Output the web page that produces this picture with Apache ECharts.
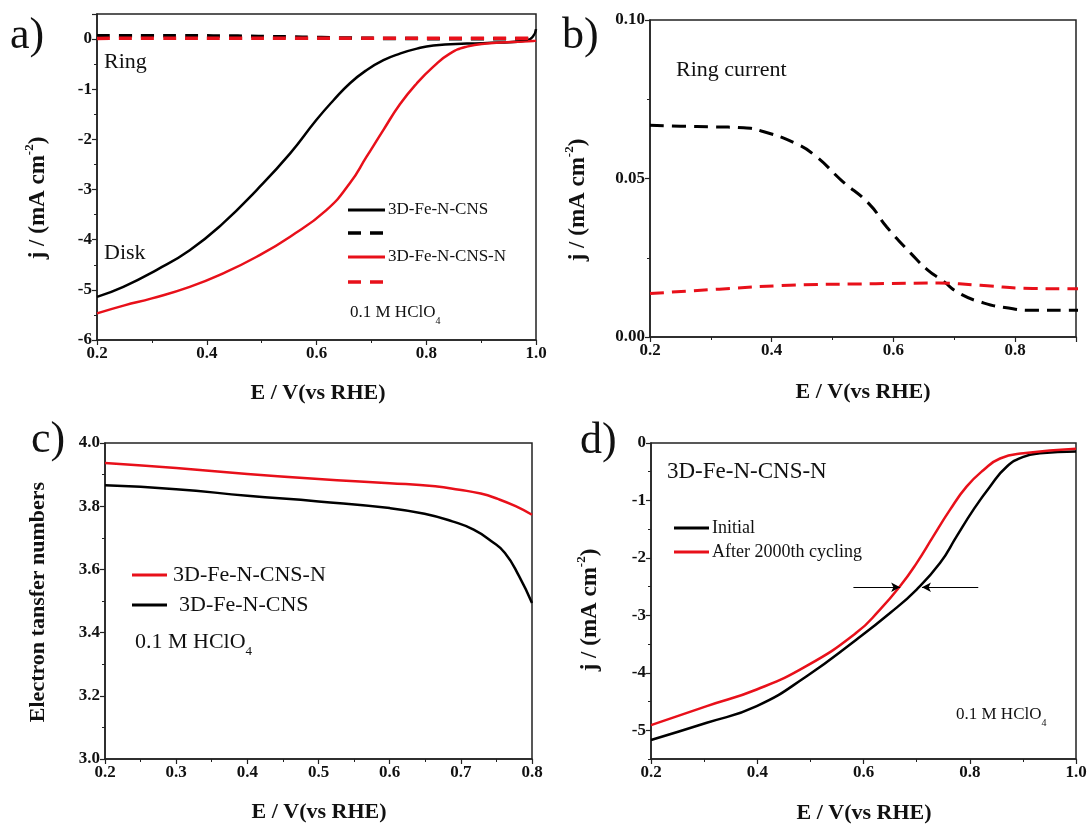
<!DOCTYPE html>
<html><head><meta charset="utf-8">
<script src="https://cdn.jsdelivr.net/npm/echarts@6/dist/echarts.min.js"></script>
<style>html,body{margin:0;padding:0;background:#fff}#c{width:1091px;height:825px}</style>
</head><body><div id="c"></div><script>
// ---------- data (E / V vs RHE, value) ----------
const aDiskCNS = [[0.2,-5.14],[0.248,-4.94],[0.309,-4.6],[0.369,-4.21],[0.43,-3.67],[0.491,-3.01],[0.552,-2.28],[0.6,-1.61],[0.631,-1.22],[0.661,-0.88],[0.691,-0.62],[0.722,-0.42],[0.752,-0.29],[0.783,-0.19],[0.813,-0.13],[0.874,-0.09],[0.934,-0.07],[0.983,-0.03],[0.995,0.06],[1.0,0.2]];
const aDiskCNSN = [[0.2,-5.47],[0.25,-5.31],[0.3,-5.17],[0.369,-4.94],[0.43,-4.67],[0.491,-4.34],[0.552,-3.94],[0.618,-3.41],[0.661,-2.87],[0.691,-2.35],[0.722,-1.81],[0.752,-1.3],[0.783,-0.88],[0.813,-0.55],[0.843,-0.29],[0.874,-0.15],[0.91,-0.09],[0.995,-0.04],[1.0,-0.03]];
const ringCNS = [[0.2,0.0668],[0.25,0.0665],[0.303,0.0663],[0.354,0.066],[0.383,0.065],[0.44,0.061],[0.474,0.0568],[0.514,0.0495],[0.56,0.042],[0.589,0.0347],[0.629,0.0263],[0.657,0.021],[0.68,0.0179],[0.709,0.0137],[0.749,0.0107],[0.783,0.0093],[0.829,0.0084],[0.9,0.0084],[1.0,0.0084]];
const ringCNSN = [[0.2,0.0137],[0.314,0.0151],[0.429,0.0163],[0.571,0.0168],[0.674,0.017],[0.743,0.0163],[0.829,0.0153],[0.9,0.0152],[1.0,0.015]];
const nCNSN = [[0.2,3.937],[0.3,3.921],[0.4,3.902],[0.5,3.886],[0.6,3.873],[0.664,3.863],[0.698,3.852],[0.728,3.84],[0.752,3.823],[0.777,3.8],[0.8,3.773]];
const nCNS = [[0.2,3.866],[0.3,3.854],[0.4,3.833],[0.5,3.815],[0.6,3.794],[0.649,3.776],[0.688,3.752],[0.718,3.726],[0.743,3.689],[0.762,3.652],[0.782,3.578],[0.8,3.494]];
const dInitial = [[0.2,-5.17],[0.305,-4.87],[0.399,-4.58],[0.493,-4.06],[0.587,-3.42],[0.65,-2.96],[0.7,-2.55],[0.744,-2.09],[0.775,-1.63],[0.807,-1.16],[0.838,-0.76],[0.87,-0.41],[0.901,-0.24],[0.932,-0.18],[1.0,-0.15]];
const dAfter = [[0.2,-4.91],[0.305,-4.58],[0.399,-4.29],[0.493,-3.88],[0.587,-3.3],[0.631,-2.9],[0.669,-2.49],[0.7,-2.09],[0.731,-1.63],[0.763,-1.16],[0.794,-0.76],[0.826,-0.47],[0.857,-0.27],[0.901,-0.18],[1.0,-0.1]];
const dArrowLeft = [[0.581,-2.51],[0.669,-2.51]];
const dArrowRight = [[0.816,-2.51],[0.71,-2.51]];
const dYTicks = [0,-1,-2,-3,-4,-5];

// ---------- styling ----------
const SERIF = "'Liberation Serif','Times New Roman',serif";
const RED = '#e8101a', BLK = '#000';
const AX = '#222';

function axis(type, grid, min, max, interval, digits, extra) {
  const o = {
    type: 'value', gridIndex: grid, min: min, max: max, interval: interval,
    axisLine: {show: true, onZero: false, lineStyle: {color: AX, width: 1.5}},
    axisTick: {show: true, inside: false, length: 5, lineStyle: {color: AX, width: 1.2}},
    minorTick: {show: true, splitNumber: 2, length: 3, lineStyle: {color: AX, width: 1}},
    splitLine: {show: false}, minorSplitLine: {show: false},
    axisLabel: {fontFamily: SERIF, fontWeight: 'bold', fontSize: 17, color: '#111', margin: 5,
      formatter: v => digits == null ? String(Math.round(v)) : v.toFixed(digits)}
  };
  return Object.assign(o, extra || {});
}

function line(name, data, xi, yi, color, dashed, width, extra) {
  return Object.assign({
    type: 'line', name: name, data: data, xAxisIndex: xi, yAxisIndex: yi,
    showSymbol: false, smooth: 0.5, silent: true,
    lineStyle: {color: color, width: width, type: dashed ? dashed : 'solid'},
    itemStyle: {color: color}, animation: false
  }, extra || {});
}

function txt(x, y, text, size, opts) {
  return Object.assign({type: 'text', x: x, y: y, silent: true,
    style: Object.assign({text: text, fontFamily: SERIF, fontSize: size, fill: '#111',
      align: 'left', verticalAlign: 'middle'}, (opts && opts.style) || {})},
    opts && opts.rotation ? {rotation: opts.rotation} : {});
}
function seg(x1, y1, x2, y2, color, w, dash) {
  return {type: 'line', silent: true, shape: {x1: x1, y1: y1, x2: x2, y2: y2},
    style: {stroke: color, lineWidth: w, lineDash: dash || null}};
}
const yTitleRich = {
  b: {fontFamily: SERIF, fontWeight: 'bold', fontSize: 23, lineHeight: 30, fill: '#111'},
  s: {fontFamily: SERIF, fontWeight: 'bold', fontSize: 13, verticalAlign: 'top', fill: '#111'}
};
function yTitle(x, y) {
  return {type: 'text', x: x, y: y, rotation: Math.PI / 2, silent: true,
    style: {text: '{b|j / (mA cm}{s|-2}{b|)}', rich: yTitleRich, align: 'center', verticalAlign: 'middle'}};
}
function xTitle(x, y) {
  return txt(x, y, 'E / V(vs RHE)', 22, {style: {fontWeight: 'bold', align: 'center'}});
}
function hclo(x, y, size) {
  return {type: 'text', x: x, y: y, silent: true,
    style: {text: '{n|0.1 M HClO}{s|4}', align: 'left', verticalAlign: 'middle',
      rich: {n: {fontFamily: SERIF, fontSize: size, lineHeight: size + 10, fill: '#111'},
             s: {fontFamily: SERIF, fontSize: Math.round(size * 0.6), verticalAlign: 'bottom', fill: '#111'}}}};
}

const option = {
  backgroundColor: '#fff',
  animation: false,
  grid: [
    {left: 97, right: 1091 - 536, top: 14, bottom: 825 - 340},
    {left: 650, right: 1091 - 1076, top: 20, bottom: 825 - 337},
    {left: 105, right: 1091 - 532, top: 443, bottom: 825 - 759},
    {left: 651, right: 1091 - 1076, top: 443, bottom: 825 - 759}
  ].map(g => Object.assign(g, {show: true, borderColor: AX, borderWidth: 1.5, containLabel: false})),
  xAxis: [
    axis('x', 0, 0.2, 1.0, 0.2, 1),
    axis('x', 1, 0.2, 0.9, 0.2, 1, {axisLabel: {fontFamily: SERIF, fontWeight: 'bold', fontSize: 17, color: '#111', margin: 5, showMaxLabel: false, formatter: v => v.toFixed(1)}}),
    axis('x', 2, 0.2, 0.8, 0.1, 1),
    axis('x', 3, 0.2, 1.0, 0.2, 1)
  ],
  yAxis: [
    axis('y', 0, -6, 0.5, 1, null, {axisLabel: {fontFamily: SERIF, fontWeight: 'bold', fontSize: 17, color: '#111', margin: 5, showMaxLabel: false, formatter: v => String(Math.round(v))}}),
    axis('y', 1, 0, 0.1, 0.05, 2),
    axis('y', 2, 3.0, 4.0, 0.2, 1),
    axis('y', 3, -5.5, 0, null, null, {
      position: 'left',
      axisLabel: {fontFamily: SERIF, fontWeight: 'bold', fontSize: 17, color: '#111', margin: 5, customValues: dYTicks, formatter: v => String(Math.round(v))},
      axisTick: {show: true, length: 5, customValues: dYTicks, lineStyle: {color: AX, width: 1.2}},
      minorTick: {show: false}
    }),
    // minor ticks for panel d
    {type: 'value', gridIndex: 3, min: -5.5, max: 0, interval: 0.5, position: 'left', offset: 0,
      axisLine: {show: false}, axisLabel: {show: false}, splitLine: {show: false},
      axisTick: {show: true, length: 3, lineStyle: {color: AX, width: 1}}}
  ],
  series: [
    line('3D-Fe-N-CNS disk', aDiskCNS, 0, 0, BLK, null, 2.5),
    line('3D-Fe-N-CNS-N disk', aDiskCNSN, 0, 0, RED, null, 2.5),
    line('3D-Fe-N-CNS ring a', ringCNS, 0, 0, BLK, [13, 9], 3.5),
    line('3D-Fe-N-CNS-N ring a', ringCNSN, 0, 0, RED, [13, 9], 3.5),
    line('3D-Fe-N-CNS ring', ringCNS, 1, 1, BLK, [14, 8], 3),
    line('3D-Fe-N-CNS-N ring', ringCNSN, 1, 1, RED, [14, 8], 3),
    line('n 3D-Fe-N-CNS-N', nCNSN, 2, 2, RED, null, 2.5),
    line('n 3D-Fe-N-CNS', nCNS, 2, 2, BLK, null, 2.5),
    line('Initial', dInitial, 3, 3, BLK, null, 2.5, {
      markLine: {silent: true, symbol: ['none', 'arrow'], symbolSize: [7, 9], animation: false,
        label: {show: false}, lineStyle: {color: '#000', width: 1, type: 'solid'},
        data: [
          [{coord: dArrowLeft[0]}, {coord: dArrowLeft[1]}],
          [{coord: dArrowRight[0]}, {coord: dArrowRight[1]}]
        ]}
    }),
    line('After 2000th cycling', dAfter, 3, 3, RED, null, 2.5)
  ],
  graphic: [
    // panel letters
    txt(10, 36, 'a)', 44), txt(562, 36, 'b)', 44), txt(31, 440, 'c)', 44), txt(580, 441, 'd)', 44),
    // axis titles
    xTitle(318, 393), xTitle(863, 392), xTitle(319, 812), xTitle(864, 813),
    yTitle(38, 198), yTitle(578, 200), yTitle(590, 610),
    txt(38, 602, 'Electron tansfer numbers', 22, {rotation: Math.PI / 2, style: {fontWeight: 'bold', align: 'center'}}),
    // panel a annotations & legend
    txt(104, 62, 'Ring', 22), txt(104, 253, 'Disk', 22),
    seg(348, 210, 385, 210, BLK, 3), txt(388, 210, '3D-Fe-N-CNS', 17),
    seg(348, 233, 385, 233, BLK, 3.5, [13, 9]),
    seg(348, 257, 385, 257, RED, 3), txt(388, 257, '3D-Fe-N-CNS-N', 17),
    seg(348, 282, 385, 282, RED, 3.5, [13, 9]),
    hclo(350, 313, 17),
    // panel b
    txt(676, 70, 'Ring current', 22),
    // panel c legend
    seg(132, 575, 167, 575, RED, 3), txt(173, 575, '3D-Fe-N-CNS-N', 22),
    seg(132, 605, 167, 605, BLK, 3), txt(179, 605, '3D-Fe-N-CNS', 22),
    hclo(135, 642, 22),
    // panel d
    txt(667, 472, '3D-Fe-N-CNS-N', 23),
    seg(674, 528, 709, 528, BLK, 3), txt(712, 528, 'Initial', 18),
    seg(674, 552, 709, 552, RED, 3), txt(712, 552, 'After 2000th cycling', 18),
    hclo(956, 715, 17)
  ]
};

const chart = echarts.init(document.getElementById('c'), null, {renderer: 'canvas'});
chart.setOption(option);
</script></body></html>
